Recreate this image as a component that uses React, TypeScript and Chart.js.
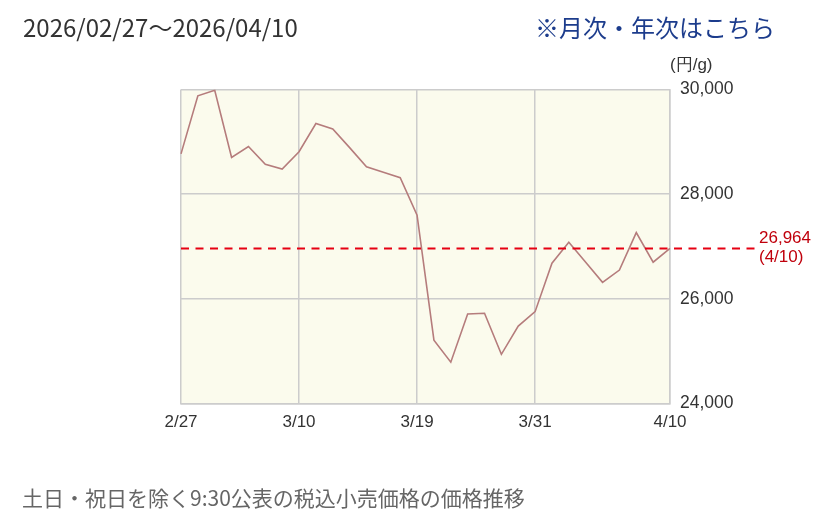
import React, { useEffect, useRef } from "react";
import { Chart, registerables } from "chart.js";

Chart.register(...registerables);

// Business days (weekends and holidays excluded)
const dates = [
  "2/27", "3/2", "3/3", "3/4", "3/5", "3/6", "3/9", "3/10", "3/11", "3/12",
  "3/13", "3/16", "3/17", "3/18", "3/19", "3/23", "3/24", "3/25", "3/26", "3/27",
  "3/30", "3/31", "4/1", "4/2", "4/3", "4/6", "4/7", "4/8", "4/9", "4/10",
];

// Retail price incl. tax (円/g)
const prices = [
  28770, 29880, 29985, 28700, 28910, 28570, 28480, 28810, 29350, 29245,
  28890, 28525, 28420, 28315, 27600, 25210, 24790, 25710, 25725, 24940,
  25480, 25755, 26680, 27080, 26700, 26315, 26550, 27265, 26700, 26964,
];

const tickDates = ["2/27", "3/10", "3/19", "3/31", "4/10"];
const yTicks = [24000, 26000, 28000, 30000];

const latestPrice = prices[prices.length - 1];
const latestDate = dates[dates.length - 1];

const GRID = "#cccccc";
const AXIS_FONT = "'Liberation Sans', Arial, sans-serif";

const plotBackground = {
  id: "plotBackground",
  beforeDraw(chart: any) {
    const { ctx, chartArea } = chart;
    ctx.save();
    ctx.fillStyle = "#fbfbed";
    ctx.fillRect(chartArea.left, chartArea.top, chartArea.right - chartArea.left, chartArea.bottom - chartArea.top);
    ctx.restore();
  },
};

const latestLine = {
  id: "latestLine",
  afterDatasetsDraw(chart: any) {
    const { ctx, chartArea, scales } = chart;
    const y = scales.y.getPixelForValue(latestPrice);
    ctx.save();
    ctx.strokeStyle = "#e60012";
    ctx.lineWidth = 2;
    ctx.setLineDash([8, 6.5]);
    ctx.beginPath();
    ctx.moveTo(chartArea.left, y);
    ctx.lineTo(chartArea.right + 87, y);
    ctx.stroke();
    ctx.setLineDash([]);
    ctx.fillStyle = "#c0000c";
    ctx.font = `17px ${AXIS_FONT}`;
    ctx.textAlign = "left";
    ctx.textBaseline = "middle";
    ctx.fillText(latestPrice.toLocaleString("en-US"), chartArea.right + 89, y - 10);
    ctx.fillText(`(${latestDate})`, chartArea.right + 89, y + 9);
    ctx.restore();
  },
};

export default function App() {
  const canvasRef = useRef<HTMLCanvasElement | null>(null);

  useEffect(() => {
    if (!canvasRef.current) return;
    const chart = new Chart(canvasRef.current, {
      type: "line",
      data: {
        labels: dates,
        datasets: [
          {
            data: prices,
            borderColor: "#b57c7c",
            borderWidth: 1.6,
            pointRadius: 0,
            fill: false,
            tension: 0,
          },
        ],
      },
      options: {
        responsive: false,
        animation: false,
        devicePixelRatio: 1,
        layout: { padding: { left: 181, top: 89.5, right: 0, bottom: 86.5 } },
        plugins: { legend: { display: false }, tooltip: { enabled: false } },
        scales: {
          x: {
            type: "category",
            offset: false,
            grid: {
              drawTicks: false,
              lineWidth: 1.5,
              color: (c: any) => (tickDates.includes(dates[c.index]) ? GRID : "rgba(0,0,0,0)"),
            },
            border: { color: GRID, width: 1.5 },
            ticks: {
              autoSkip: false,
              maxRotation: 0,
              padding: 9,
              color: "#333333",
              font: { family: AXIS_FONT, size: 17 },
              callback: (_v: any, i: number) => (tickDates.includes(dates[i]) ? dates[i] : ""),
            },
            afterFit: (s: any) => {
              s.height = 30;
            },
          },
          y: {
            position: "right",
            min: yTicks[0],
            max: yTicks[yTicks.length - 1],
            afterBuildTicks: (s: any) => {
              s.ticks = yTicks.map((v) => ({ value: v }));
            },
            grid: { drawTicks: false, lineWidth: 1.5, color: GRID },
            border: { color: GRID, width: 1.5 },
            ticks: {
              padding: 10,
              color: "#333333",
              font: { family: AXIS_FONT, size: 17.5 },
              callback: (v: any) => Number(v).toLocaleString("en-US"),
            },
            afterFit: (s: any) => {
              s.width = 162;
            },
          },
        },
      },
      plugins: [plotBackground, latestLine],
    });
    return () => chart.destroy();
  }, []);

  const cjk = "'Noto Sans CJK JP', 'Noto Sans', sans-serif";

  return (
    <div style={{ position: "fixed", left: 0, top: 0, width: 832, height: 520, background: "#fff" }}>
      <canvas ref={canvasRef} width={832} height={520} style={{ position: "absolute", left: 0, top: 0, width: 832, height: 520 }} />
      <div style={{ position: "absolute", left: 23, top: 12, lineHeight: "30px", fontSize: 24, fontFamily: cjk, color: "#333" }}>
        2026/02/27～2026/04/10
      </div>
      <div style={{ position: "absolute", left: 535, top: 12, lineHeight: "30px", fontSize: 24, fontFamily: cjk, color: "#1c3c8c" }}>
        ※月次・年次はこちら
      </div>
      <div style={{ position: "absolute", left: 670, top: 54, lineHeight: "22px", fontSize: 17, fontFamily: AXIS_FONT, color: "#333" }}>
        (円/g)
      </div>
      <div style={{ position: "absolute", left: 22, top: 484, lineHeight: "26px", fontSize: 21, fontFamily: cjk, color: "#666" }}>
        土日・祝日を除く9:30公表の税込小売価格の価格推移
      </div>
    </div>
  );
}
